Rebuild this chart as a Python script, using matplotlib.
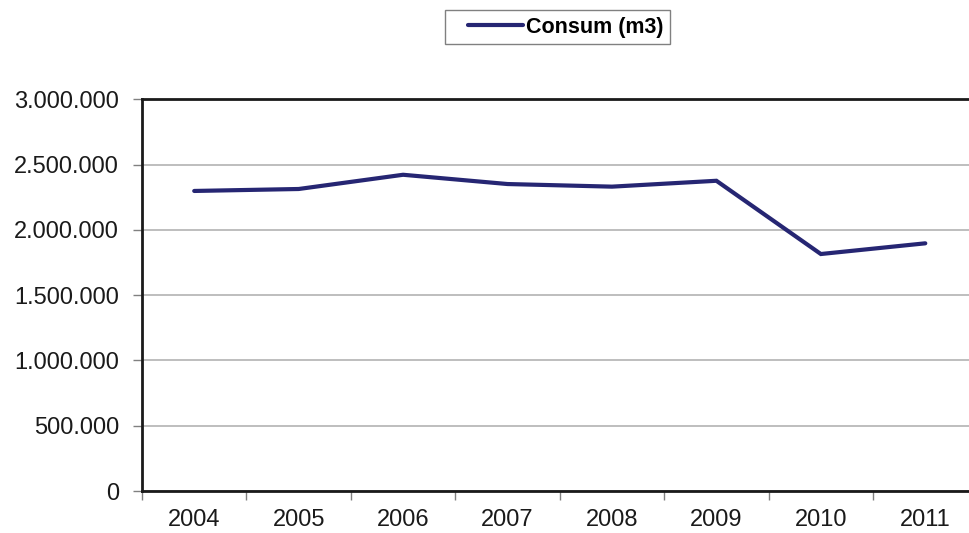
import matplotlib
matplotlib.use("Agg")
import matplotlib.pyplot as plt
from matplotlib.ticker import FuncFormatter, FixedLocator
from matplotlib.legend_handler import HandlerLine2D

years = ["2004", "2005", "2006", "2007", "2008", "2009", "2010", "2011"]
consum = [2298000, 2313000, 2422000, 2351000, 2331000, 2376000, 1815000, 1897000]
y_ticks = [0, 500000, 1000000, 1500000, 2000000, 2500000, 3000000]

plt.rcParams['font.family'] = ['Liberation Sans', 'DejaVu Sans']

fig = plt.figure(figsize=(9.7, 5.33), dpi=100)
ax = fig.add_axes([142 / 970, 1 - 491 / 533, (977.5 - 142) / 970, (491 - 99.3) / 533])

x = list(range(len(years)))
line, = ax.plot(x, consum, color='#262673', linewidth=3.0, solid_capstyle='round',
                solid_joinstyle='miter', label='Consum (m3)', clip_on=False, zorder=3)

ax.set_xlim(-0.5, len(years) - 0.5)
ax.set_ylim(0, 3000000)

# category boundaries as major ticks, labels on minor ticks at centres
ax.xaxis.set_major_locator(FixedLocator([i - 0.5 for i in range(len(years) + 1)]))
ax.xaxis.set_major_formatter(FuncFormatter(lambda v, p: ""))
ax.xaxis.set_minor_locator(FixedLocator(x))
ax.set_xticklabels(years, minor=True)
ax.tick_params(axis='x', which='major', length=6.5, width=1, color='#808080', direction='out')
ax.tick_params(axis='x', which='minor', length=0, labelsize=17, pad=13, labelcolor='#1a1a1a')

ax.set_yticks(y_ticks)
ax.yaxis.set_major_formatter(FuncFormatter(lambda v, p: f"{int(v):,}".replace(",", ".")))
ax.tick_params(axis='y', length=6.5, width=1, color='#808080', direction='out',
               labelsize=17, pad=10, labelcolor='#1a1a1a')

ax.grid(axis='y', color='#b3b3b3', linewidth=1.2)
ax.set_axisbelow(True)

for side in ['left', 'bottom', 'top']:
    ax.spines[side].set_color('#1a1a1a')
    ax.spines[side].set_linewidth(2)
ax.spines['right'].set_visible(False)

leg = fig.legend(handles=[line], loc='center', bbox_to_anchor=(557.5 / 970, 1 - 27 / 533),
                 frameon=True, fancybox=False, edgecolor='#808080', framealpha=1,
                 prop={'weight': 'bold', 'size': 15.5}, numpoints=2,
                 handler_map={line: HandlerLine2D(marker_pad=0.74)},
                 handlelength=4.04, handletextpad=-0.60, borderpad=0.32, borderaxespad=0)
leg.get_frame().set_linewidth(1)

fig.savefig("out.png", dpi=100)
